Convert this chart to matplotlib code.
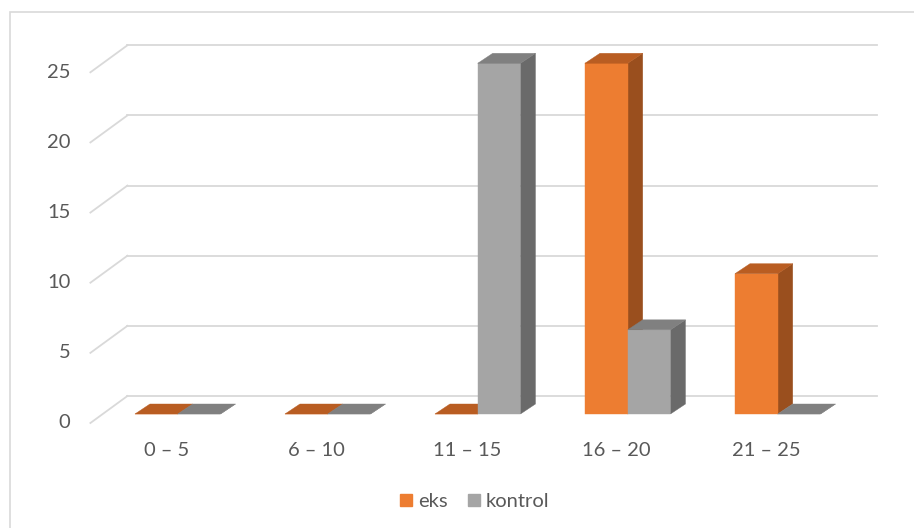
import matplotlib
matplotlib.use("Agg")
import matplotlib.pyplot as plt
import matplotlib.transforms as mtransforms
from matplotlib.patches import Polygon, Rectangle, Patch
import numpy as np

categories = ["0 – 5", "6 – 10", "11 – 15", "16 – 20", "21 – 25"]
eks = [0, 0, 0, 25, 10]
kontrol = [0, 0, 25, 6, 0]
yticks = [0, 5, 10, 15, 20, 25]
series_names = ["eks", "kontrol"]

TEXT = "#595959"
GRID = "#D9D9D9"
colors = {
    "eks": ("#ED7D31", "#B95D22", "#9A4F1E"),      # front, top, side
    "kontrol": ("#A5A5A5", "#808080", "#6A6A6A"),
}
FS = 14.5

plt.rcParams['font.family'] = ['Lato', 'DejaVu Sans']

W, H = 914, 528
fig = plt.figure(figsize=(W / 100, H / 100), dpi=100)
ax = fig.add_axes([102.7 / W, 114 / H, 750 / W, 350.7 / H])
ax.set_xlim(-0.5, len(categories) - 0.5)
ax.set_ylim(0, 25)
ax.axis("off")

# chart border (cropped at right/bottom)
fig.patches.append(Rectangle((10 / W, -0.1), 1.2, 1 - 12 / H + 0.1,
                             transform=fig.transFigure, fill=False,
                             edgecolor=GRID, linewidth=1.2))

# 3D offsets in pixels
BACK = (24.7, 18.0)    # back wall offset from bar plane
FRONT = (-12.3, -9.0)  # front floor edge offset
DEPTH = (15.0, 10.0)   # bar depth
bar_w = 0.285

def disp(x, y):
    return ax.transData.transform((x, y))

idt = mtransforms.IdentityTransform()
x0, x1 = ax.get_xlim()

# gridlines: back wall + left diagonal
for v in yticks:
    a = disp(x0, v)
    b = disp(x1, v)
    ax.add_line(plt.Line2D([a[0] + BACK[0], b[0] + BACK[0]],
                           [a[1] + BACK[1], b[1] + BACK[1]],
                           transform=idt, color=GRID, lw=1.3, clip_on=False, zorder=1))
    ax.add_line(plt.Line2D([a[0] + FRONT[0], a[0] + BACK[0]],
                           [a[1] + FRONT[1], a[1] + BACK[1]],
                           transform=idt, color=GRID, lw=1.3, clip_on=False, zorder=1))
    ax.text(a[0] + FRONT[0] - 20, a[1] + FRONT[1], str(v), transform=idt,
            ha="right", va="center", fontsize=FS, color=TEXT)

# bars
def bar3d(xl, v, cols):
    fc, tc, sc = cols
    p00 = disp(xl, 0); p10 = disp(xl + bar_w, 0)
    p01 = disp(xl, v); p11 = disp(xl + bar_w, v)
    dx, dy = DEPTH
    front = [p00, p10, p11, p01]
    top = [p01, p11, (p11[0] + dx, p11[1] + dy), (p01[0] + dx, p01[1] + dy)]
    side = [p10, (p10[0] + dx, p10[1] + dy), (p11[0] + dx, p11[1] + dy), p11]
    for verts, c in ((side, sc), (front, fc), (top, tc)):
        ax.add_patch(Polygon(verts, closed=True, transform=idt, facecolor=c,
                             edgecolor=c, linewidth=0.3, clip_on=False, zorder=3))

for i in range(len(categories)):
    bar3d(i - bar_w, eks[i], colors["eks"])
    bar3d(i, kontrol[i], colors["kontrol"])

# category labels
for i, c in enumerate(categories):
    p = disp(i, 0)
    ax.text(p[0] - 11, p[1] - 36.7, c, transform=idt, ha="center", va="center",
            fontsize=FS, color=TEXT)

handles = [Patch(facecolor=colors[s][0], edgecolor=colors[s][0]) for s in series_names]
fig.legend(handles, series_names, loc="center", bbox_to_anchor=(474.5 / W, 1 - 501.7 / H),
           ncol=2, frameon=False, fontsize=FS, labelcolor=TEXT,
           handlelength=0.6, handleheight=0.6, handletextpad=0.3, columnspacing=1.0)

fig.savefig("out.png", dpi=100, facecolor="white")
